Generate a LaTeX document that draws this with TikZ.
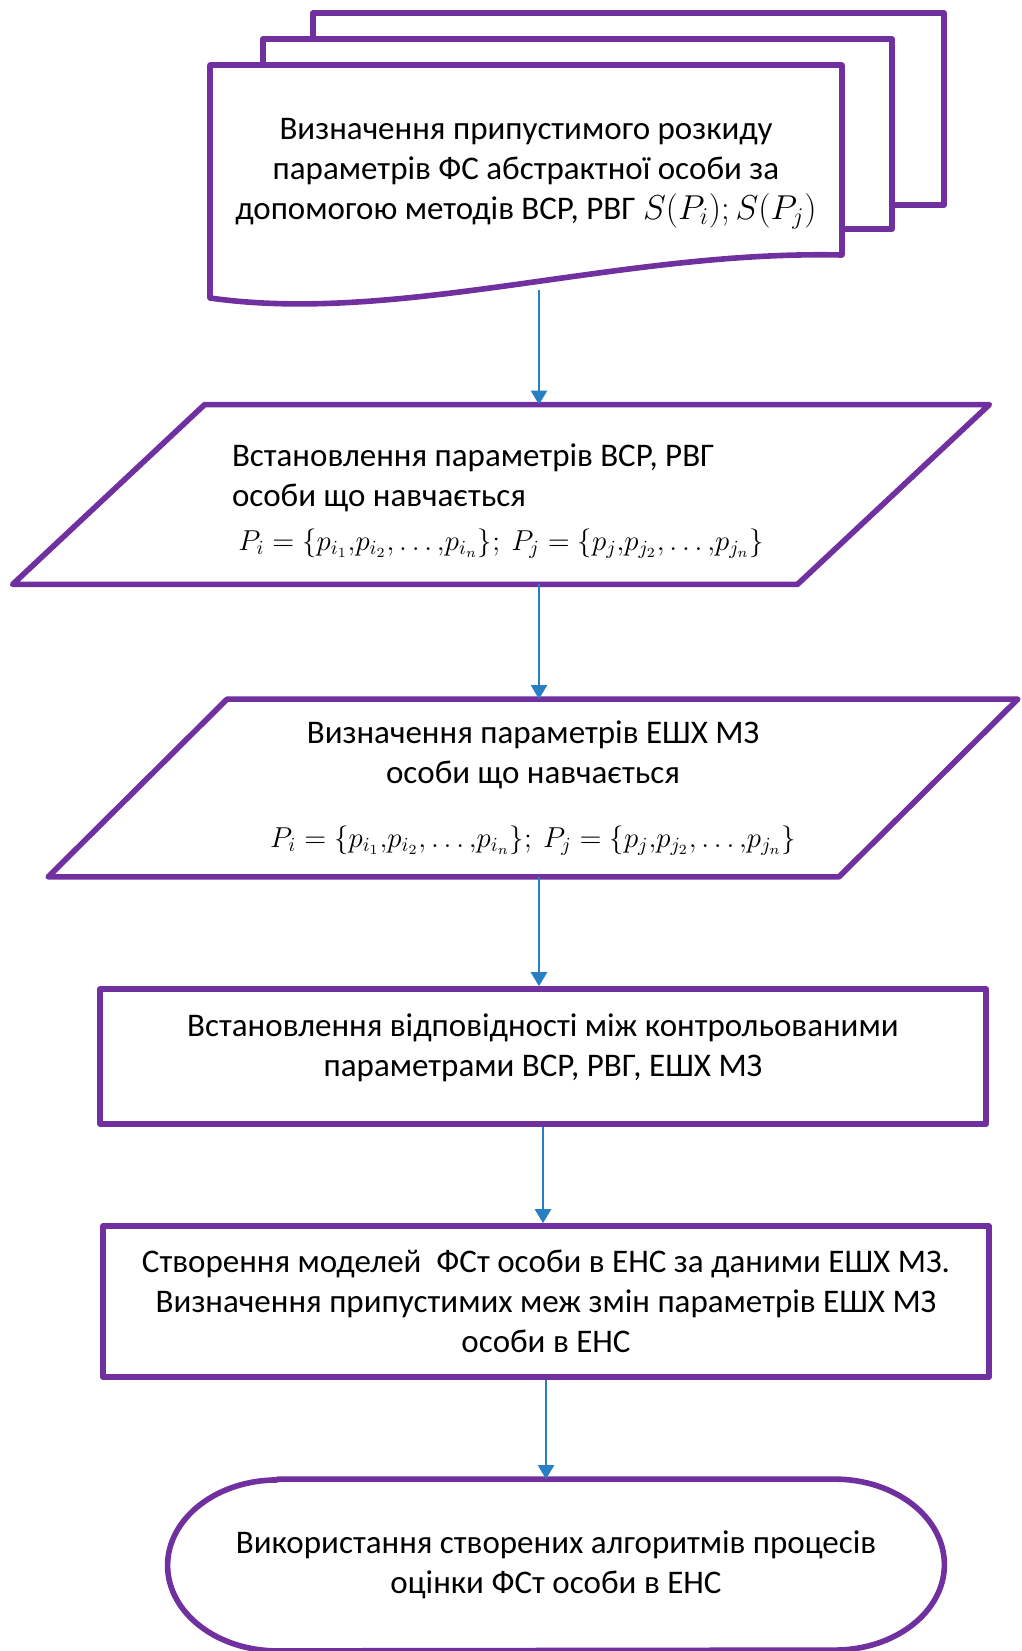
\documentclass[tikz,border=0pt]{standalone}
\usepackage{amsmath}
\usepackage{fontspec}
\setmainfont{Carlito}
\usetikzlibrary{arrows.meta}

\definecolor{boxpurple}{RGB}{112,48,160}
\definecolor{arrowblue}{RGB}{40,128,195}

\begin{document}
\begin{tikzpicture}[x=0.5pt, y=-0.5pt, line join=round,
    box/.style={draw=boxpurple, line width=2.8pt, fill=white},
    outline/.style={draw=boxpurple, line width=2.8pt},
    txt/.style={font=\fontsize{16.5}{20}\selectfont, align=center},
    arr/.style={draw=arrowblue, line width=1.2pt, -{Triangle[length=7pt,width=8pt]}}]
%\tikzstyle{block}=[rectangle,draw=boxpurple,line width=2.8pt,minimum width=443pt]
\useasboundingbox (0,0) rectangle (1022,1651);
\begin{scope}
    % document stack
    \path [box] (313,13) rectangle (944,205);
    \path [box] (263,39) rectangle (892,229);
    \path [box] (210,298) -- (210,65) -- (842,65) -- (842,255)
        .. controls (620,250) and (400,325) .. (210,298) -- cycle;
    \node [txt] (doc) at (526,174) {Визначення припустимого розкиду\\
        параметрів ФС абстрактної особи за\\
        допомогою методів ВСР, РВГ $S(P_i); S(P_j)$};
    \coordinate (docend) at (539,290);

    % parallelograms
    \node [txt, align=flush left, text width=269pt, inner xsep=61.5pt, minimum height=89.5pt] (inp1) at (501,494.5)
        {\rule{0pt}{18pt}Встановлення параметрів ВСР, РВГ\\
        особи що навчається\\[2pt]
        \mbox{\fontsize{14}{20}\selectfont\ $P_i = \{p_{i_1}{,}p_{i_2}{,}\ldots{,}p_{i_n}\};\ P_j = \{p_j{,}p_{j_2}{,}\ldots{,}p_{j_n}\}$}};
    \path [outline] ([xshift=48pt]inp1.north west) -- ([xshift=48pt]inp1.north east)
        -- ([xshift=-48pt]inp1.south east) -- ([xshift=-48pt]inp1.south west) -- cycle;

    \node [txt, minimum width=395pt, minimum height=88.5pt] (inp2) at (533,788)
        {Визначення параметрів ЕШХ МЗ\\
        особи що навчається\\[12pt]
        {\fontsize{14}{20}\selectfont $P_i = \{p_{i_1}{,}p_{i_2}{,}\ldots{,}p_{i_n}\};\ P_j = \{p_j{,}p_{j_2}{,}\ldots{,}p_{j_n}\}$}};
    \path [outline] ([xshift=44.75pt]inp2.north west) -- ([xshift=44.75pt]inp2.north east)
        -- ([xshift=-44.75pt]inp2.south east) -- ([xshift=-44.75pt]inp2.south west) -- cycle;

    % process boxes
    \node [txt, outline, text depth=11pt, minimum width=443pt, minimum height=67.5pt] (proc1) at (543,1056.5)
        {Встановлення відповідності між контрольованими\\
        параметрами ВСР, РВГ, ЕШХ МЗ};
    \node [txt, outline, minimum width=443pt, minimum height=75.5pt] (proc2) at (546,1301.5)
        {Створення моделей \ ФСт особи в ЕНС за даними ЕШХ МЗ.\\
        Визначення припустимих меж змін параметрів ЕШХ МЗ\\
        особи в ЕНС};

    % terminal
    \node [txt, minimum width=388pt, minimum height=85.5pt] (term) at (556,1565)
        {Використання створених алгоритмів процесів\\
        оцінки ФСт особи в ЕНС};
    \path [outline] ([xshift=55pt]term.north west) -- ([xshift=-55pt]term.north east)
        arc [start angle=90, end angle=-90, x radius=55pt, y radius=42.75pt]
        -- ([xshift=55pt]term.south west)
        arc [start angle=270, end angle=90, x radius=55pt, y radius=42.75pt] -- cycle;

    \draw [arr] (docend) -- (docend |- inp1.north);
    \draw [arr] (inp1.south -| docend) -- (inp2.north -| docend);
    \draw [arr] (inp2.south -| docend) -- (proc1.north -| docend);
    \draw [arr] (proc1.south) -- (proc1.south |- proc2.north);
    \draw [arr] (proc2.south) -- (proc2.south |- term.north);
\end{scope}
\end{tikzpicture}
\end{document}
